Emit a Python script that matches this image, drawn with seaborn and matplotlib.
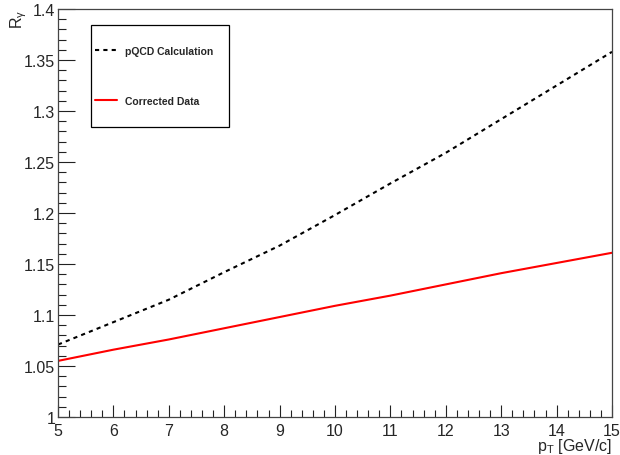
import numpy as np
import pandas as pd
import seaborn as sns
import matplotlib.pyplot as plt
from matplotlib.ticker import MultipleLocator, FuncFormatter
from matplotlib.patches import Rectangle

# values
pt = [5, 6, 7, 8, 9, 10, 11, 12, 13, 14, 15]
r_pqcd = [1.071, 1.093, 1.115, 1.142, 1.168, 1.198, 1.229, 1.259, 1.292, 1.325, 1.358]
r_data = [1.055, 1.066, 1.076, 1.087, 1.098, 1.109, 1.119, 1.130, 1.141, 1.151, 1.161]
labels = ["pQCD Calculation", "Corrected Data"]

df = pd.DataFrame({
    "pt": pt * 2,
    "r": r_pqcd + r_data,
    "curve": [labels[0]] * len(pt) + [labels[1]] * len(pt),
})

sns.set_style("ticks")
plt.rcParams["font.family"] = ["Liberation Sans", "DejaVu Sans"]
plt.rcParams["mathtext.fontset"] = "custom"
plt.rcParams["mathtext.rm"] = "Liberation Sans"
plt.rcParams["mathtext.it"] = "Liberation Sans:italic"

fig = plt.figure(figsize=(6.2, 4.56), dpi=100)
ax = fig.add_axes([58 / 620, 38 / 456, 554 / 620, 408 / 456])

sns.lineplot(data=df, x="pt", y="r", hue="curve", style="curve",
             palette={labels[0]: "black", labels[1]: "#ff0000"},
             dashes={labels[0]: (2, 2), labels[1]: ""},
             linewidth=1.5, ax=ax)

ax.set_xlim(5, 15)
ax.set_ylim(1.0, 1.4)
ax.xaxis.set_major_locator(MultipleLocator(1))
ax.xaxis.set_minor_locator(MultipleLocator(0.2))
ax.yaxis.set_major_locator(MultipleLocator(0.05))
ax.yaxis.set_minor_locator(MultipleLocator(0.01))
ax.yaxis.set_major_formatter(FuncFormatter(lambda v, p: "%g" % round(v, 2)))
ax.xaxis.set_major_formatter(FuncFormatter(lambda v, p: "%g" % v))

ax.tick_params(axis="both", which="both", direction="in", labelsize=11.5, color="#222222")
ax.tick_params(axis="y", which="major", length=12, width=0.8, pad=2)
ax.tick_params(axis="y", which="minor", length=6, width=0.8)
ax.tick_params(axis="x", which="major", length=9, width=0.8, pad=4)
ax.tick_params(axis="x", which="minor", length=5, width=0.8)
for s in ax.spines.values():
    s.set_color("#444444")
    s.set_linewidth(0.9)

ax.set_xlabel(r"$\mathregular{p_T}$ [GeV/c]", fontsize=11.5, loc="right")
ax.xaxis.set_label_coords(1.0, -0.047)
ax.set_ylabel(r"$\mathregular{R_{γ}}$", fontsize=11.5, loc="top")
ax.yaxis.set_label_coords(-0.052, 1.0)

# legend box drawn separately, entries placed inside it
ax.add_patch(Rectangle((0.0596, 0.711), 0.249, 0.25, transform=ax.transAxes,
                       fill=False, edgecolor="black", linewidth=0.9, zorder=5))
leg = ax.legend(loc="upper left", bbox_to_anchor=(0.0668, 0.909),
                borderaxespad=0, borderpad=0, frameon=False,
                prop={"weight": "bold", "size": 7.5},
                handlelength=2.1, handletextpad=0.8, labelspacing=3.8, title=None)

fig.savefig("out.png", dpi=100, facecolor="white")
